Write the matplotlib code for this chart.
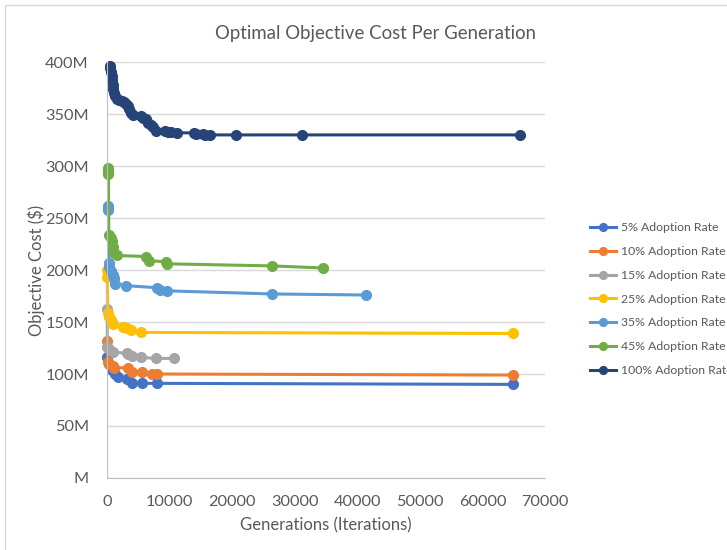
import matplotlib.pyplot as plt
from matplotlib.patches import Rectangle
from matplotlib.ticker import FuncFormatter

plt.rcParams['font.family'] = ['Lato', 'DejaVu Sans']

labels = ["5% Adoption Rate", "10% Adoption Rate", "15% Adoption Rate",
          "25% Adoption Rate", "35% Adoption Rate", "45% Adoption Rate",
          "100% Adoption Rate"]
colors = ["#4472C4", "#ED7D31", "#A5A5A5", "#FFC000", "#5B9BD5", "#70AD47", "#264478"]

# generations (x) and objective cost in millions (y) per adoption rate
x5 = [20, 300, 800, 1300, 1800, 3200, 4000, 5600, 8000, 64900]
y5 = [116, 110, 104, 100, 97, 95, 91, 91, 91, 90]

x10 = [50, 200, 400, 900, 1200, 3400, 4000, 5600, 7200, 8000, 64900]
y10 = [132, 112, 110, 108, 106, 106, 102, 102, 100, 100, 99]

x15 = [20, 100, 300, 900, 3200, 3400, 4000, 5400, 7800, 10700]
y15 = [163, 126, 124, 121, 120, 119, 117, 116, 115, 115]

x25 = [10, 60, 150, 300, 700, 1000, 2600, 3200, 3800, 5500, 64800]
y25 = [200, 193, 159, 155, 152, 148, 145, 144, 142, 140, 139]

x35 = [150, 200, 250, 300, 400, 700, 900, 1100, 1300, 3000, 8000, 8500, 9600, 26400, 41300]
y35 = [262, 260, 258, 207, 203, 199, 195, 192, 187, 185, 183, 181, 180, 177, 176]

x45 = [150, 200, 250, 300, 600, 800, 1000, 1200, 1600, 6300, 6700, 9400, 9600, 26300, 34500]
y45 = [298, 295, 292, 234, 231, 228, 222, 216, 214, 213, 209, 208, 206, 204, 202]

x100 = [450, 550, 650, 750, 850, 950, 1050, 1150, 1300, 1600, 2000, 2400, 2800, 3100,
        3400, 3600, 3800, 4200, 5400, 5800, 6200, 6600, 7000, 7400, 7800, 9300, 9800,
        10300, 11200, 13900, 14300, 15300, 15700, 16400, 20600, 31100, 65900]
y100 = [396, 394, 391, 387, 383, 378, 374, 370, 367, 365, 364, 363, 362, 360,
        358, 355, 351, 349, 348, 346, 345, 341, 340, 338, 334, 334, 333,
        333, 332, 332, 331, 331, 330, 330, 330, 330, 330]

series = [(x5, y5), (x10, y10), (x15, y15), (x25, y25), (x35, y35), (x45, y45), (x100, y100)]

fig = plt.figure(figsize=(7.27, 5.5), dpi=100)
fig.patches.append(Rectangle((0.007, -0.1), 1.2, 1.091, transform=fig.transFigure,
                             fill=False, edgecolor="#D9D9D9", linewidth=1))
ax = fig.add_axes([0.147, 0.131, 0.603, 0.756])

for (xs, ys), lab, col in zip(series, labels, colors):
    ax.plot(xs, ys, color=col, linewidth=2.2, marker="o", markersize=7, label=lab,
            clip_on=False)

ax.set_xlim(0, 70000)
ax.set_ylim(0, 400)
ax.set_xticks(range(0, 70001, 10000))
ax.set_yticks(range(0, 401, 50))
ax.yaxis.set_major_formatter(FuncFormatter(lambda v, p: "M" if v == 0 else "%dM" % v))
ax.grid(axis="y", color="#D9D9D9", linewidth=1)
ax.set_axisbelow(True)
for s in ["top", "right"]:
    ax.spines[s].set_visible(False)
for s in ["left", "bottom"]:
    ax.spines[s].set_color("#BFBFBF")
ax.tick_params(length=0, labelsize=11.7, labelcolor="#595959")
ax.tick_params(axis="y", pad=13)
ax.tick_params(axis="x", pad=12)

ax.set_xlabel("Generations (Iterations)", fontsize=12, color="#595959", labelpad=6)
ax.set_ylabel("Objective Cost ($)", fontsize=12, color="#595959", labelpad=0)
fig.text(0.517, 0.94, "Optimal Objective Cost Per Generation", fontsize=13.4,
         color="#595959", ha="center", va="center")

ax.legend(loc="center left", bbox_to_anchor=(1.077, 0.43), frameon=False, fontsize=8.8,
          labelcolor="#595959", handlelength=2.1, labelspacing=1.05, handletextpad=0.45,
          markerscale=0.8)

plt.savefig("out.png", dpi=100)
